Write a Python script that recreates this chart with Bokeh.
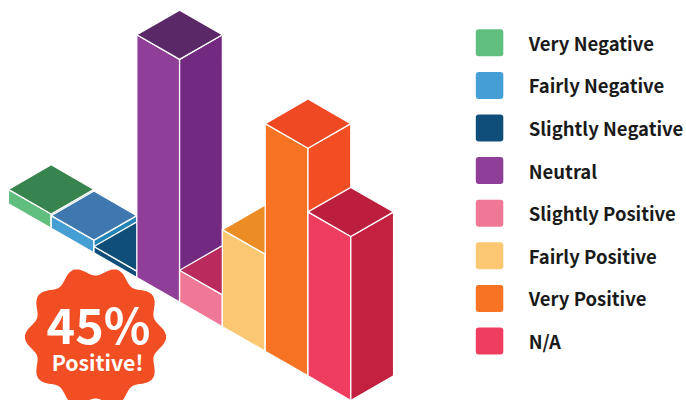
import numpy as np
from bokeh.plotting import figure
from bokeh.core.properties import value
from bokeh.embed import file_html
from bokeh.resources import INLINE

categories = ["Very Negative", "Fairly Negative", "Slightly Negative", "Neutral",
              "Slightly Positive", "Fairly Positive", "Very Positive", "N/A"]
shares = [1.8, 1.6, 0.8, 30.5, 4.0, 12.2, 28.6, 20.6]
left_colors = ["#60BF7E", "#459FD5", "#0E4E78", "#8F3F98", "#EF7896", "#FBC772", "#F57322", "#EF3D60"]
right_colors = ["#2E8A4E", "#2484B5", "#0E4E78", "#722980", "#BA2A5C", "#EB8C25", "#F24E24", "#C4203F"]
top_colors = ["#38844E", "#3E78AE", "#0E4E78", "#5A2767", "#BA2A5C", "#EB8C25", "#EF4923", "#BC1F3E"]
badge_big = "45%"
badge_small = "Positive!"

W, H = 686, 400
CX, CY = 42.8, 24.6        # one cell along the iso axes
X0, Y0 = 7.9, 203.2        # left corner of the base
UNIT = 7.96                # height of one percent

p = figure(width=W, height=H, x_range=(0, W), y_range=(H, 0), output_backend="svg",
           toolbar_location=None, min_border=0, outline_line_color=None,
           background_fill_color="white", border_fill_color="white")
p.styles = {"position": "absolute", "left": "0px", "top": "0px"}
p.axis.visible = False
p.grid.visible = False

xs, ys, cols = [], [], []
for i, v in enumerate(shares):
    x1, y1 = X0 + i * CX, Y0 + i * CY
    x2, y2 = x1 + CX, y1 + CY
    x3, y3 = x2 + CX, y2 - CY
    h = v * UNIT
    xs += [[x1, x2, x2, x1], [x2, x3, x3, x2], [x1, x2, x3, x2]]
    ys += [[y1, y2, y2 - h, y1 - h], [y2, y3, y3 - h, y2 - h],
           [y1 - h, y2 - h, y3 - h, y1 - h - CY]]
    cols += [left_colors[i], right_colors[i], top_colors[i]]

p.patches(xs, ys, fill_color=cols, line_color="white", line_width=1.3, line_join="round")

# badge
theta = np.linspace(0, 2 * np.pi, 361)
r = 66 + 4.6 * np.cos(10 * theta)
p.patch(95 + r * np.cos(theta), 336.5 + r * np.sin(theta), fill_color="#F24E24", line_color=None)
p.text([98], [322.5], text=[badge_big], text_color="white", text_align="center", text_baseline="middle",
       text_font=value("Noto Sans CJK SC"), text_font_style="bold", text_font_size="48.5px")
p.text([97], [361], text=[badge_small], text_color="white", text_align="center", text_baseline="middle",
       text_font=value("Noto Sans CJK SC"), text_font_style="bold", text_font_size="21.3px")

# legend
rows = np.arange(len(categories))
ly = 42.3 + rows * 42.6
p.quad(left=475.3, right=502.8, top=ly - 13.5, bottom=ly + 13.5, fill_color=left_colors,
       line_color=None, border_radius=3)
p.text(x=528.2, y=ly, text=categories, text_color="#1A1A1A", text_baseline="middle",
       text_font=value("Noto Sans CJK SC"), text_font_style="bold", text_font_size="18.5px")

open("out.html", "w").write(file_html(p, INLINE))
